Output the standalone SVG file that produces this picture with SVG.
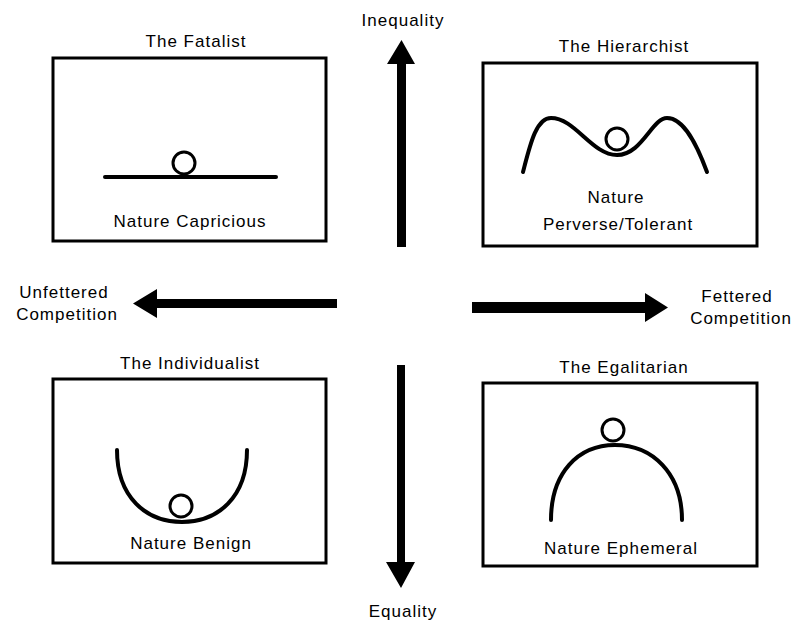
<svg xmlns="http://www.w3.org/2000/svg" width="795" height="621" viewBox="0 0 795 621">
<style>
  text { font-family: "Liberation Sans", Arial, sans-serif; font-size: 17px; fill: #000; text-anchor: middle; letter-spacing: 1px; }
  .box { fill: #fff; stroke: #000; stroke-width: 3; }
  .curve { fill: none; stroke: #000; stroke-width: 4; stroke-linecap: round; }
  .ball { fill: #fff; stroke: #000; stroke-width: 3; }
  .arrow { fill: #000; stroke: none; }
</style>
<rect width="795" height="621" fill="#fff"/>

<g id="fatalist">
  <text x="196" y="47">The Fatalist</text>
  <rect class="box" x="53" y="58" width="273" height="183"/>
  <line class="curve" x1="105" y1="177" x2="276" y2="177"/>
  <circle class="ball" cx="184" cy="163" r="11"/>
  <text x="190" y="227">Nature Capricious</text>
</g>

<g id="hierarchist">
  <text x="624" y="52">The Hierarchist</text>
  <rect class="box" x="483" y="63" width="274" height="183"/>
  <path class="curve" d="M523,172 C530,145 536,118 551,118 C575,118 592,155 617,155 C642,155 652,118 667,118 C684,118 697,145 707,172"/>
  <circle class="ball" cx="617" cy="139" r="11"/>
  <text x="616" y="203">Nature</text>
  <text x="618" y="230">Perverse/Tolerant</text>
</g>

<g id="individualist">
  <text x="190" y="369">The Individualist</text>
  <rect class="box" x="53" y="379" width="273" height="184"/>
  <path class="curve" d="M117,450 C117,497 146,522 182,522 C218,522 247,497 247,450"/>
  <circle class="ball" cx="181" cy="506" r="11"/>
  <text x="191" y="549">Nature Benign</text>
</g>

<g id="egalitarian">
  <text x="624" y="373">The Egalitarian</text>
  <rect class="box" x="483" y="383" width="274" height="183"/>
  <path class="curve" d="M551,520 C551,473 578,445 615,445 C652,445 682,473 682,520"/>
  <circle class="ball" cx="613" cy="430" r="11"/>
  <text x="621" y="554">Nature Ephemeral</text>
</g>

<g id="connectors">
  <polygon class="arrow" points="397,247 406,247 406,64 415,64 401.5,40 387,64 397,64"/>
  <polygon class="arrow" points="397,365 405,365 405,562 415,562 401,588 386,562 397,562"/>
  <polygon class="arrow" points="337,299 337,308 157,308 157,318 133,303.5 157,289 157,299"/>
  <polygon class="arrow" points="472,302 472,313 645,313 645,322 668,307.5 645,293 645,302"/>
</g>

<g id="axis-labels">
  <text x="403" y="26">Inequality</text>
  <text x="403" y="617">Equality</text>
  <text x="64" y="298">Unfettered</text>
  <text x="67" y="320">Competition</text>
  <text x="737" y="302">Fettered</text>
  <text x="741" y="324">Competition</text>
</g>
</svg>
